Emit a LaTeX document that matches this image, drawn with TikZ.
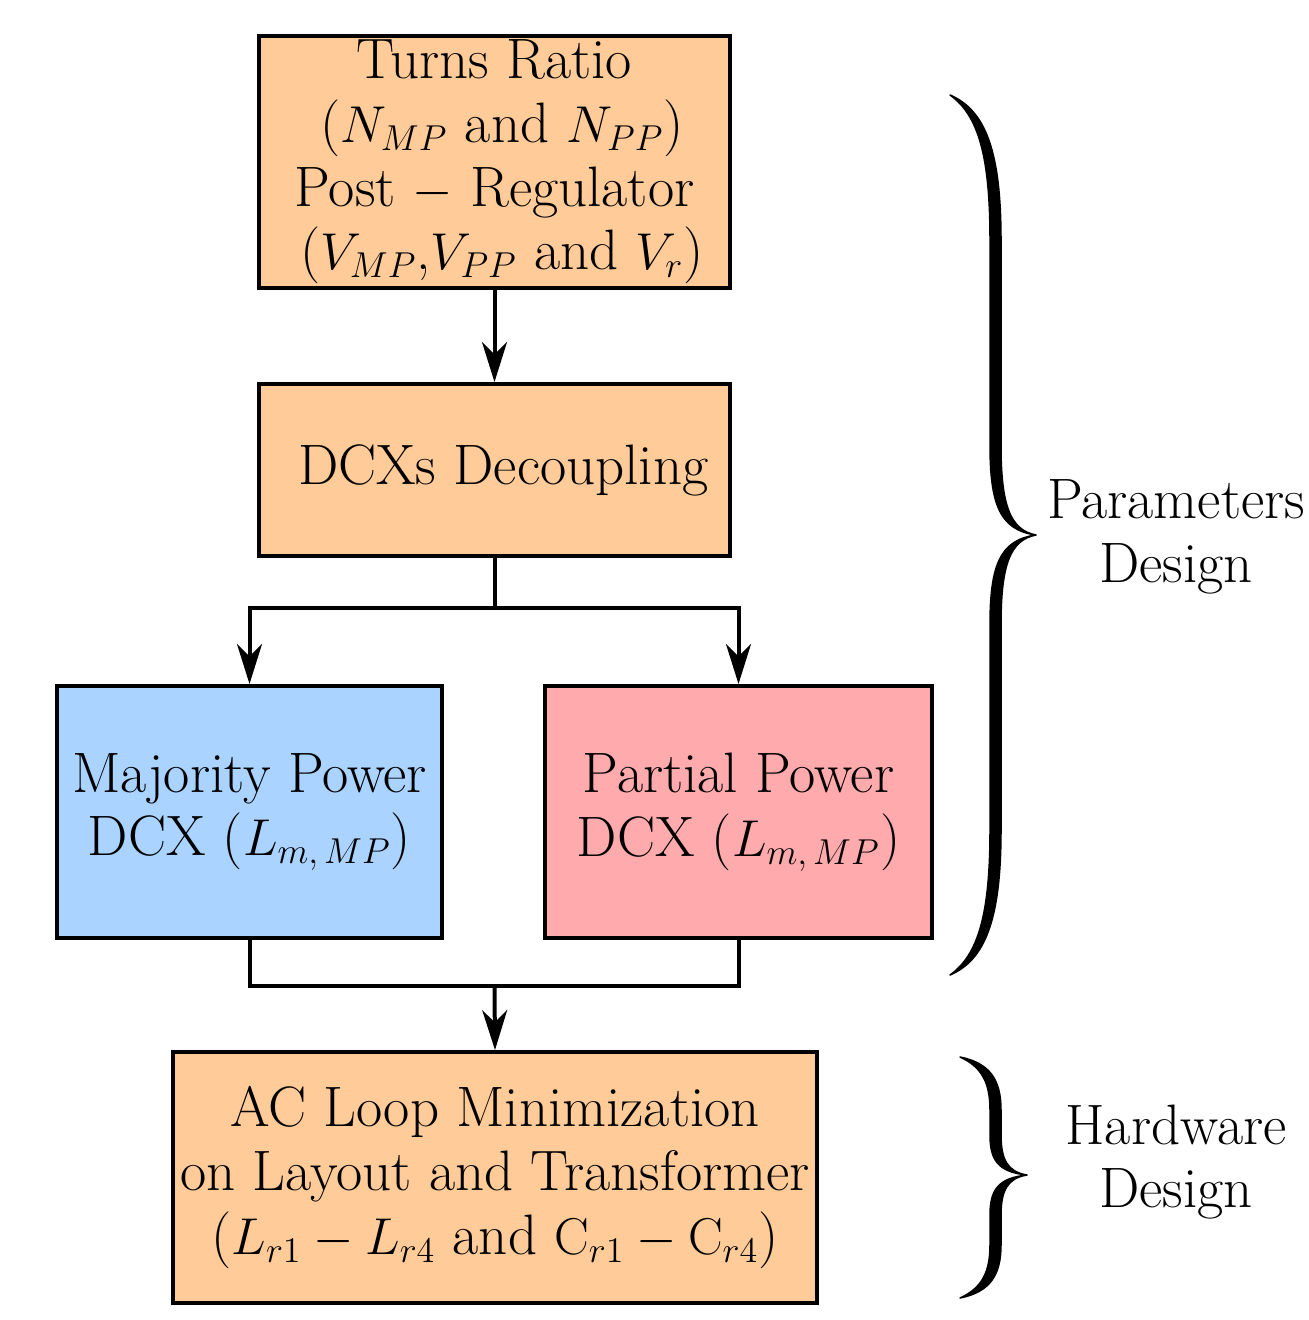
\documentclass[tikz,border=0pt]{standalone}
\usetikzlibrary{arrows.meta}
\DeclareMathSizes{22.8}{22.8}{13.5}{10}
\definecolor{boxorange}{RGB}{255,204,153}
\definecolor{boxblue}{RGB}{170,212,255}
\definecolor{boxpink}{RGB}{255,170,172}
\begin{document}
\begin{tikzpicture}[x=0.4pt,y=-0.4pt,
  every node/.style={font=\fontsize{22.8}{25.5}\selectfont},
  blockbox/.style={draw=black,line width=1.6pt,rectangle,inner sep=0pt,align=center},
  conn/.style={line width=1.6pt,draw=black},
  arr/.style={conn,-{Stealth[length=16pt,width=10pt,inset=5pt]}},
  bracefill/.style={fill=black,draw=black,line width=0.6pt,line join=round}]
\path[use as bounding box] (0,0) rectangle (1308,1320);

\node[blockbox,fill=boxorange,minimum width=188.4pt,minimum height=100.8pt] (top) at (494.5,162)
  {Turns Ratio\\ \hspace*{6pt}($N_{MP}$\ and $N_{PP}$)\\ Post $-$ Regulator\\ \hspace*{6pt}($V_{MP}$,$V_{PP}$\ and $V_{r}$)};
\node[blockbox,fill=boxorange,minimum width=188.4pt,minimum height=68.8pt] (dcx) at (494.5,470)
  {\hspace*{7pt}DCXs Decoupling};
\node[blockbox,fill=boxblue,minimum width=154pt,minimum height=100.8pt] (maj) at (249.5,812)
  {Majority Power\\ DCX\ ($L_{m,\,MP}$)};
\node[blockbox,fill=boxpink,minimum width=154.8pt,minimum height=100.8pt] (par) at (738.5,812)
  {Partial Power\\ DCX\ ($L_{m,\,MP}$)};
\node[blockbox,fill=boxorange,minimum width=257.6pt,minimum height=100.4pt] (ac) at (495,1177.5)
  {AC Loop Minimization\\ on Layout and Transformer\\ ($L_{r1}-L_{r4}$\ and $\mathrm{C}_{r1}-\mathrm{C}_{r4}$)};

\coordinate (split) at (494.5,608);
\coordinate (merge) at (494.5,986);

\draw[arr] (top.south) -- (dcx.north);
\draw[conn] (dcx.south) -- (split);
\draw[arr] (split) -| (maj.north);
\draw[arr] (split) -| (par.north);
\draw[conn] (maj.south) -- (maj.south |- merge) -- (par.south |- merge) -- (par.south);
\draw[arr] (merge) -- (ac.north);

% large brace
\path[bracefill] (950,95) .. controls (985,110) and (1001,150) .. (1001,240) -- (1001,445)
  .. controls (1001,505) and (1010,530) .. (1036,535)
  .. controls (1010,540) and (1001,565) .. (1001,625) -- (1001,830)
  .. controls (1001,920) and (985,960) .. (950,975)
  .. controls (978,955) and (990,915) .. (990,830) -- (990,625)
  .. controls (990,565) and (1000,540) .. (1036,535)
  .. controls (1000,530) and (990,505) .. (990,445) -- (990,240)
  .. controls (990,155) and (978,115) .. (950,95) -- cycle;
% small brace
\path[bracefill] (960,1057) .. controls (990,1063) and (1001,1080) .. (1001,1110) -- (1001,1135)
  .. controls (1001,1160) and (1008,1172) .. (1027,1175)
  .. controls (1008,1178) and (1001,1190) .. (1001,1215) -- (1001,1245)
  .. controls (1001,1275) and (990,1292) .. (960,1298)
  .. controls (982,1288) and (990,1272) .. (990,1245) -- (990,1215)
  .. controls (990,1190) and (998,1178) .. (1027,1175)
  .. controls (998,1172) and (990,1160) .. (990,1135) -- (990,1110)
  .. controls (990,1083) and (982,1067) .. (960,1057) -- cycle;

\node[align=center] (pd) at (1176,537) {Parameters\\ Design};
\node[align=center] (hd) at (1176,1162) {Hardware\\ Design};
\end{tikzpicture}
\end{document}
